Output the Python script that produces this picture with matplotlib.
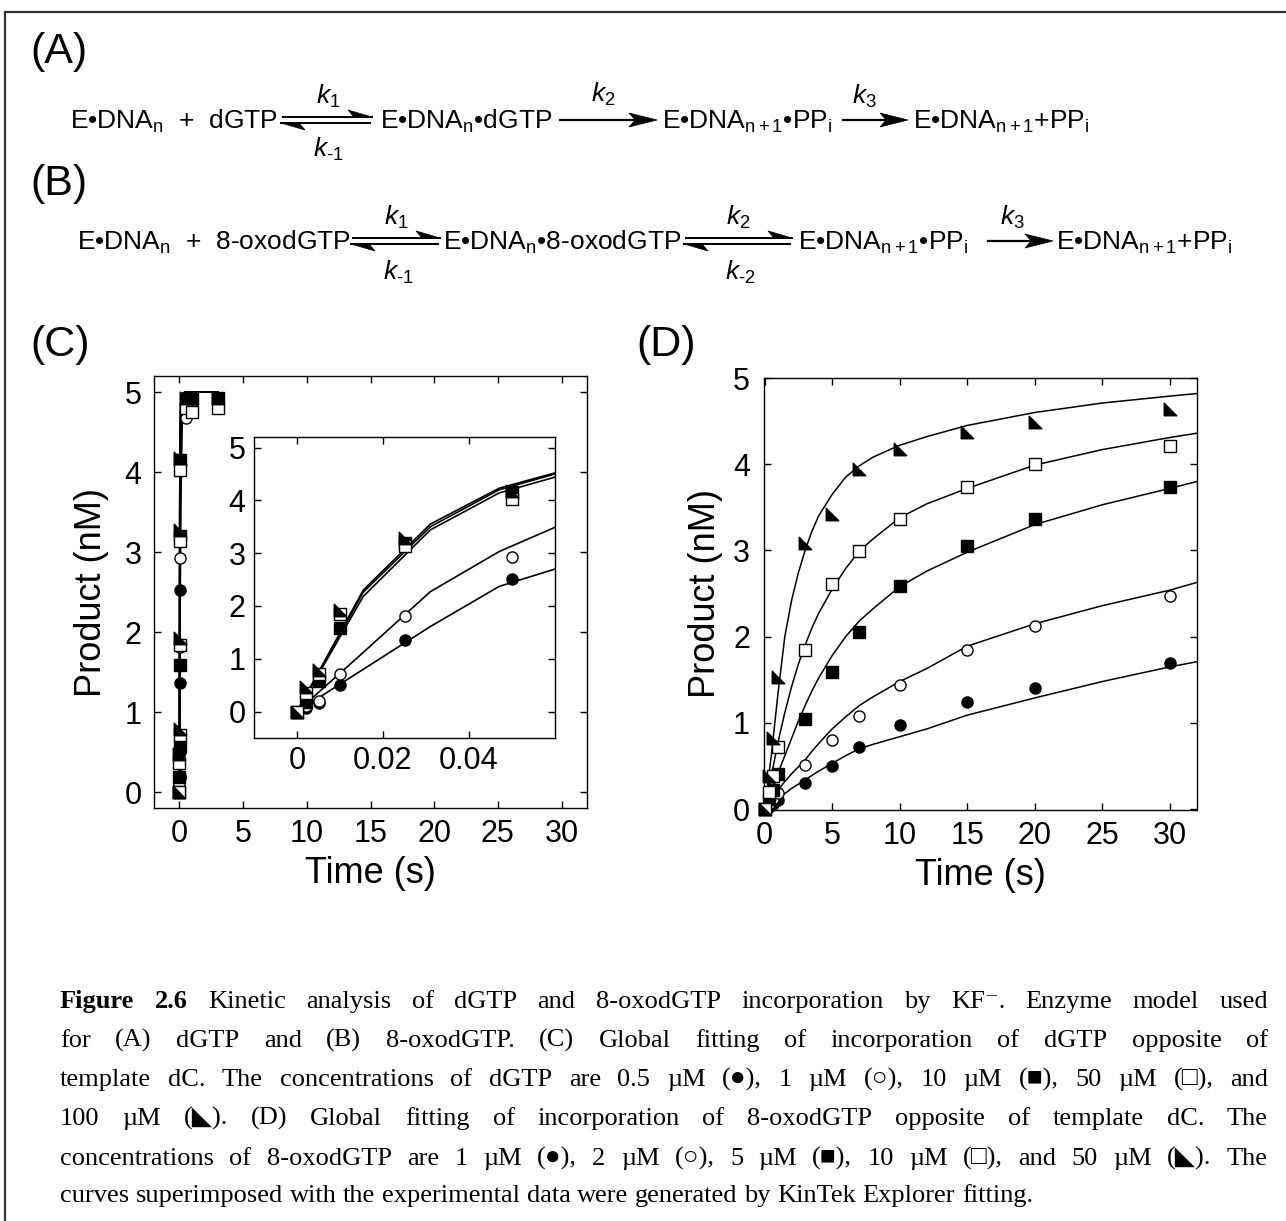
import numpy as np
import matplotlib
matplotlib.use('Agg')
import matplotlib.pyplot as plt
from matplotlib.path import Path
from matplotlib.lines import Line2D
from matplotlib.patches import Polygon

plt.rcParams['font.family'] = ['Liberation Sans', 'DejaVu Sans']
plt.rcParams['mathtext.fontset'] = 'custom'
plt.rcParams['mathtext.rm'] = 'Liberation Sans'
plt.rcParams['mathtext.it'] = 'Liberation Sans:italic'
plt.rcParams['mathtext.bf'] = 'Liberation Sans:bold'

NAN = float('nan')

# ---------------- Panel C data (dGTP) ----------------
c_pts_t = [0, 0.002, 0.005, 0.01, 0.025, 0.05, 0.5, 1, 3]
c_pts_fc = [0, 0.07, 0.17, 0.50, 1.36, 2.52, 4.85, 4.90, NAN]   # 0.5 uM
c_pts_oc = [0, 0.10, 0.20, 0.71, 1.81, 2.93, 4.67, 4.80, NAN]   # 1 uM
c_pts_fs = [0, 0.19, 0.57, 1.59, 3.20, 4.15, 4.90, 4.92, 4.92]  # 10 uM
c_pts_os = [0, 0.36, 0.71, 1.84, 3.14, 4.02, 4.80, 4.75, 4.80]  # 50 uM
c_pts_tr = [0, 0.47, 0.79, 1.93, 3.28, 4.17, 4.92, 4.92, 4.92]  # 100 uM

c_fit_t = [0, 0.0154, 0.031, 0.047, 0.06, 0.1, 0.2, 0.5, 1, 3]
c_fit_fc = [0, 0.80, 1.61, 2.37, 2.70, 3.60, 4.60, 4.98, 5.0, 5.0]
c_fit_oc = [0, 1.12, 2.27, 3.03, 3.49, 4.20, 4.85, 5.0, 5.0, 5.0]
c_fit_fs = [0, 2.26, 3.50, 4.20, 4.50, 4.84, 4.98, 5.0, 5.0, 5.0]
c_fit_os = [0, 2.18, 3.44, 4.14, 4.44, 4.80, 4.97, 5.0, 5.0, 5.0]
c_fit_tr = [0, 2.30, 3.55, 4.23, 4.52, 4.85, 4.98, 5.0, 5.0, 5.0]

# ---------------- Panel D data (8-oxodGTP) ----------------
d_pts_t = [0, 0.3, 0.6, 1, 3, 5, 7, 10, 15, 20, 30]
d_pts_fc = [0, 0.03, 0.06, 0.11, 0.30, 0.50, 0.72, 0.98, 1.24, 1.41, 1.70]  # 1 uM
d_pts_oc = [0, 0.06, 0.12, 0.19, 0.51, 0.80, 1.08, 1.44, 1.85, 2.12, 2.47]  # 2 uM
d_pts_fs = [0, 0.12, 0.22, 0.41, 1.04, 1.59, 2.05, 2.59, 3.05, 3.37, 3.74]  # 5 uM
d_pts_os = [0, 0.20, 0.38, 0.72, 1.84, 2.61, 2.99, 3.36, 3.74, 4.00, 4.21]  # 10 uM
d_pts_tr = [0, 0.39, 0.82, 1.53, 3.09, 3.42, 3.95, 4.18, 4.37, 4.49, 4.64]  # 50 uM

d_fit_t = [0, 0.5, 1, 1.5, 2, 2.5, 3, 3.5, 4, 5, 6, 7, 8, 10, 12, 15, 20, 25, 30, 32]
d_fit_tr = [0, 0.62, 1.35, 2.0, 2.42, 2.74, 3.0, 3.22, 3.4, 3.65, 3.85, 3.98, 4.08, 4.22, 4.32, 4.45, 4.60, 4.71, 4.79, 4.82]
d_fit_os = [0, 0.38, 0.78, 1.12, 1.42, 1.68, 1.90, 2.10, 2.27, 2.55, 2.79, 2.99, 3.13, 3.38, 3.54, 3.72, 3.99, 4.17, 4.31, 4.36]
d_fit_fs = [0, 0.20, 0.42, 0.62, 0.82, 1.02, 1.20, 1.37, 1.52, 1.78, 2.00, 2.18, 2.32, 2.58, 2.76, 2.98, 3.30, 3.53, 3.72, 3.80]
d_fit_oc = [0, 0.10, 0.22, 0.32, 0.41, 0.49, 0.57, 0.67, 0.76, 0.93, 1.07, 1.20, 1.30, 1.48, 1.63, 1.89, 2.15, 2.36, 2.54, 2.63]
d_fit_fc = [0, 0.06, 0.12, 0.18, 0.24, 0.29, 0.34, 0.39, 0.44, 0.53, 0.62, 0.70, 0.75, 0.84, 0.93, 1.09, 1.29, 1.48, 1.65, 1.71]

main_xticks = [0, 5, 10, 15, 20, 25, 30]
main_yticks = [0, 1, 2, 3, 4, 5]
inset_xticks = [0, 0.02, 0.04]
inset_xticklabels = ['0', '0.02', '0.04']

# ---------------- figure ----------------
W, H = 1286, 1221
fig = plt.figure(figsize=(W / 100, H / 100), dpi=100)


def fx(x):
    return x / W


def fy(y):
    return 1 - y / H


TRI = Path([(-1, -1), (1, -1), (-1, 1), (-1, -1)],
           [Path.MOVETO, Path.LINETO, Path.LINETO, Path.CLOSEPOLY])

styles = [
    dict(marker='o', mfc='black', mec='black', ms=8),
    dict(marker='o', mfc='white', mec='black', ms=8),
    dict(marker='s', mfc='black', mec='black', ms=8),
    dict(marker='s', mfc='white', mec='black', ms=8),
    dict(marker=TRI, mfc='black', mec='black', ms=9),
]


def style_axes(ax, fs=22, xpad=8, ypad=8):
    ax.tick_params(direction='in', length=5, width=1, top=True, right=True,
                   labelsize=fs)
    ax.tick_params(axis='x', pad=xpad)
    ax.tick_params(axis='y', pad=ypad)
    for s in ax.spines.values():
        s.set_linewidth(1.0)


def draw_series(ax, fit_t, fits, pts_t, pts, lw=1.1, clip=True):
    for f in fits:
        ax.plot(fit_t, f, color='black', lw=lw, zorder=2)
    for p, st in zip(pts, styles):
        ax.plot(pts_t, p, ls='none', mew=1.0, zorder=3, clip_on=clip, **st)


# Panel C main
axC = fig.add_axes([fx(154), fy(808), (587 - 154) / W, (808 - 376) / H])
draw_series(axC, c_fit_t, [c_fit_fc, c_fit_oc, c_fit_fs, c_fit_os, c_fit_tr],
            c_pts_t, [c_pts_fc, c_pts_oc, c_pts_fs, c_pts_os, c_pts_tr], lw=1.4)
axC.set_xlim(-2, 32)
axC.set_ylim(-0.2, 5.2)
axC.set_xticks(main_xticks)
axC.set_yticks(main_yticks)
style_axes(axC, xpad=8, ypad=9)
axC.set_xlabel('Time (s)', fontsize=26, labelpad=5)
axC.set_ylabel('Product (nM)', fontsize=26, labelpad=11)

# Panel C inset
axI = fig.add_axes([fx(254), fy(738), (555 - 254) / W, (738 - 437) / H])
draw_series(axI, c_fit_t, [c_fit_fc, c_fit_oc, c_fit_fs, c_fit_os, c_fit_tr],
            c_pts_t, [c_pts_fc, c_pts_oc, c_pts_fs, c_pts_os, c_pts_tr], lw=1.2)
axI.set_xlim(-0.01, 0.06)
axI.set_ylim(-0.5, 5.2)
axI.set_xticks(inset_xticks)
axI.set_xticklabels(inset_xticklabels)
axI.set_yticks(main_yticks)
style_axes(axI, xpad=6, ypad=6)

# Panel D
axD = fig.add_axes([fx(764), fy(810), (1197 - 764) / W, (810 - 378) / H])
draw_series(axD, d_fit_t, [d_fit_fc, d_fit_oc, d_fit_fs, d_fit_os, d_fit_tr],
            d_pts_t, [d_pts_fc, d_pts_oc, d_pts_fs, d_pts_os, d_pts_tr],
            lw=1.1, clip=False)
axD.set_xlim(-0.04, 32)
axD.set_ylim(-0.01, 5.0)
axD.set_xticks(main_xticks)
axD.set_yticks(main_yticks)
style_axes(axD, xpad=8, ypad=10)
axD.set_xlabel('Time (s)', fontsize=26, labelpad=5)
axD.set_ylabel('Product (nM)', fontsize=26, labelpad=7)

# ---------------- panel letters ----------------
for lab, x, y in [('(A)', 30, 52), ('(B)', 30, 184), ('(C)', 30, 345), ('(D)', 636, 345)]:
    fig.text(fx(x), fy(y), lab, fontsize=31, va='center', ha='left')

# ---------------- reaction schemes ----------------
SFS = 19


def species(x, yb, s):
    fig.text(fx(x), fy(yb), s, fontsize=SFS, va='baseline', ha='left')


def klabel(xc, yc, s):
    fig.text(fx(xc), fy(yc), s, fontsize=SFS, va='center', ha='center')


def line(x0, y0, x1, y1, lw=1.6, color='black'):
    fig.add_artist(Line2D([fx(x0), fx(x1)], [fy(y0), fy(y1)], color=color,
                          lw=lw, transform=fig.transFigure))


def poly(pts):
    fig.add_artist(Polygon([(fx(a), fy(b)) for a, b in pts], closed=True,
                           facecolor='black', edgecolor='black', lw=0.5,
                           transform=fig.transFigure))


def arrow(x0, x1, y):
    L, w = 28, 7
    line(x0, y, x1 - L * 0.8, y)
    poly([(x1, y), (x1 - L, y - w), (x1 - L * 0.78, y), (x1 - L, y + w)])


def equil(x0, x1, y):
    L, w = 24, 7
    yu, yl = y - 3, y + 3
    line(x0 + 2, yu, x1, yu, lw=1.4)
    poly([(x1, yu), (x1 - L, yu - w), (x1 - L * 0.75, yu)])
    line(x0, yl, x1 - 2, yl, lw=1.4)
    poly([(x0, yl), (x0 + L, yl + w), (x0 + L * 0.75, yl)])


HY = '\u2010'

# Scheme A
yA, bA = 120, 129
species(70, bA, r'E•DNA$_\mathregular{n}$  +  dGTP')
equil(281, 372, yA)
klabel(328, 96, r'$k_\mathregular{1}$')
klabel(328, 149, r'$k_\mathregular{' + HY + r'1}$')
species(380, bA, r'E•DNA$_\mathregular{n}$•dGTP')
arrow(560, 657, yA)
klabel(603, 94, r'$k_\mathregular{2}$')
species(662, bA, r'E•DNA$_\mathregular{n+1}$•PP$_\mathregular{i}$')
arrow(843, 908, yA)
klabel(864, 96, r'$k_\mathregular{3}$')
species(913, bA, r'E•DNA$_\mathregular{n+1}$+PP$_\mathregular{i}$')

# Scheme B
yB, bB = 241, 250
species(77, bB, r'E•DNA$_\mathregular{n}$  +  8-oxodGTP')
equil(351, 440, yB)
klabel(396, 217, r'$k_\mathregular{1}$')
klabel(398, 272, r'$k_\mathregular{' + HY + r'1}$')
species(443, bB, r'E•DNA$_\mathregular{n}$•8-oxodGTP')
equil(684, 792, yB)
klabel(738, 217, r'$k_\mathregular{2}$')
klabel(740, 272, r'$k_\mathregular{' + HY + r'2}$')
species(798, bB, r'E•DNA$_\mathregular{n+1}$•PP$_\mathregular{i}$')
arrow(988, 1053, yB)
klabel(1012, 217, r'$k_\mathregular{3}$')
species(1056, bB, r'E•DNA$_\mathregular{n+1}$+PP$_\mathregular{i}$')

# ---------------- border ----------------
line(5, 12, 1286, 12, lw=1.6, color='#333333')
line(5, 12, 5, 1221, lw=1.6, color='#333333')

# ---------------- caption ----------------
cap_lines = [
    [('Figure 2.6', 'bold'), (' Kinetic analysis of dGTP and 8-oxodGTP incorporation by KF\u207b. Enzyme model used', 'normal')],
    [('for (A) dGTP and (B) 8-oxodGTP. (C) Global fitting of incorporation of dGTP opposite of', 'normal')],
    [('template dC. The concentrations of dGTP are 0.5 \u00b5M (\u25cf), 1 \u00b5M (\u25cb), 10 \u00b5M (\u25a0), 50 \u00b5M (\u25a1), and', 'normal')],
    [('100 \u00b5M (\u25e3). (D) Global fitting of incorporation of 8-oxodGTP opposite of template dC. The', 'normal')],
    [('concentrations of 8-oxodGTP are 1 \u00b5M (\u25cf), 2 \u00b5M (\u25cb), 5 \u00b5M (\u25a0), 10 \u00b5M (\u25a1), and 50 \u00b5M (\u25e3). The', 'normal')],
    [('curves superimposed with the experimental data were generated by KinTek Explorer fitting.', 'normal')],
]
cap_base = [1008, 1047, 1086, 1125, 1165, 1202]
CAP_FS = 19
CAP_FAM = ['Liberation Serif', 'DejaVu Serif', 'DejaVu Sans']
XL, XR = 60, 1268

renderer = fig.canvas.get_renderer()
t1 = fig.text(0, 0, 'x x', fontsize=CAP_FS, family=CAP_FAM)
t2 = fig.text(0, 0, 'xx', fontsize=CAP_FS, family=CAP_FAM)
space_w = t1.get_window_extent(renderer).width - t2.get_window_extent(renderer).width
t1.remove()
t2.remove()

for i, (runs, yb) in enumerate(zip(cap_lines, cap_base)):
    words = []
    for txt, wt in runs:
        for w in txt.split(' '):
            if w:
                words.append((w, wt))
    objs = []
    widths = []
    for w, wt in words:
        t = fig.text(0, fy(yb), w, fontsize=CAP_FS, family=CAP_FAM,
                     weight=wt, va='baseline', ha='left')
        objs.append(t)
        widths.append(t.get_window_extent(renderer).width)
    if i < len(cap_lines) - 1:
        gap = (XR - XL - sum(widths)) / (len(words) - 1)
    else:
        gap = space_w
    x = XL
    for t, wd in zip(objs, widths):
        t.set_x(fx(x))
        x += wd + gap

fig.savefig('out.png', dpi=100)
